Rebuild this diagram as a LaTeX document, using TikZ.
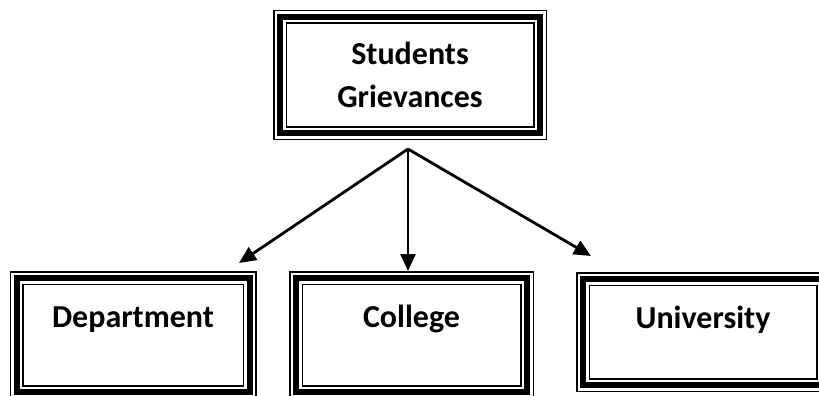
\documentclass[tikz,border=0pt]{standalone}
\usepackage{fontspec}
\setmainfont{Carlito}
\usetikzlibrary{arrows.meta}
\begin{document}
\begin{tikzpicture}
	[x=1pt, y=-1pt,
	 every node/.style={inner sep=0, outer sep=0, align=center,
	   font=\fontsize{32}{43}\selectfont\bfseries},
	 frame/.style={draw, line width=1.5pt, double=white, double distance=11pt,
	   postaction={draw, line width=6pt}},
	 link/.style={-{Triangle[length=17pt,width=15pt]}, line width=2.8pt}]
	\useasboundingbox (0,0) rectangle (819,396);
	\clip (0,0) rectangle (819,396);
	\node (grievance) [frame, minimum width=260pt, minimum height=116pt] at (410,75) {Students \\ Grievances};
	\node (dept) [frame, minimum width=233pt, minimum height=114pt, text height=20pt, text depth=36pt] at (133,335) {Department};
	\node (college) [frame, minimum width=231pt, minimum height=114pt, text height=20pt, text depth=36pt] at (411.5,335) {College};
	\node (univ) [frame, minimum width=240pt, minimum height=106pt, text height=20pt, text depth=28pt] at (703,332) {University};
	\coordinate (fork) at (408,149);
	\coordinate (todept) at (239,263);
	\coordinate (tocollege) at (408,271);
	\coordinate (touniv) at (591,256);
	\draw [link] (fork) -- (todept);
	\draw [link] (fork) -- (tocollege);
	\draw [link] (fork) -- (touniv);
\end{tikzpicture}
\end{document}
